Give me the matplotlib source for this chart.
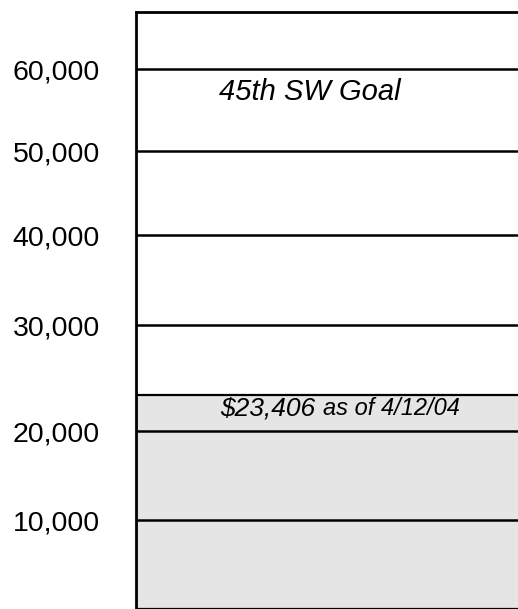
import numpy as np
import matplotlib
matplotlib.use("Agg")
import matplotlib.pyplot as plt

plt.rcParams['font.family'] = ['Liberation Sans', 'DejaVu Sans']

# data
tick_values = [10000, 20000, 30000, 40000, 50000, 60000]
tick_labels = ['10,000', '20,000', '30,000', '40,000', '50,000', '60,000']
raised = 23406
goal = 60000
goal_text = '45th SW Goal'
raised_amount = '$23,406'
raised_date = 'as of 4/12/04'

# the picture's scale is not quite even, so map the ticks piecewise
knot_vals = [-10000, 0, 10000, 20000, 30000, 40000, 50000, 60000, 70000]
knot_pos = [-89, 0, 89, 178, 284, 374, 458, 540, 622]

def fwd(v):
    return np.interp(v, knot_vals, knot_pos)

def inv(p):
    return np.interp(p, knot_pos, knot_vals)

fig = plt.figure(figsize=(5.18, 6.09), dpi=100)
ax = fig.add_axes([136/518, 0, 394/518, 597/609])
ax.set_yscale('function', functions=(fwd, inv))

# thermometer bar
ax.bar(0, raised, width=1, align='edge', color='#e5e5e5',
       edgecolor='black', linewidth=1.6)

ax.set_xlim(0, 1)
ax.set_ylim(0, 67000)

ax.set_yticks(tick_values)
ax.set_yticklabels(tick_labels, fontsize=20.5)
ax.set_xticks([])
ax.tick_params(axis='y', length=0, pad=26)
ax.yaxis.grid(True, color='black', linewidth=1.8)

for s in ['right', 'bottom']:
    ax.spines[s].set_visible(False)
for s in ['top', 'left']:
    ax.spines[s].set_linewidth(2)

# labels
ax.annotate(goal_text, xy=(0.44, goal), xytext=(0, -16),
            textcoords='offset points', ha='center', va='center',
            fontsize=21, style='italic')
ax.annotate(raised_amount, xy=(0.455, raised), xytext=(0, -10),
            textcoords='offset points', ha='right', va='center',
            fontsize=19, style='italic')
ax.annotate(raised_date, xy=(0.475, raised), xytext=(0, -10),
            textcoords='offset points', ha='left', va='center',
            fontsize=17, style='italic')

fig.savefig('out.png', dpi=100)
